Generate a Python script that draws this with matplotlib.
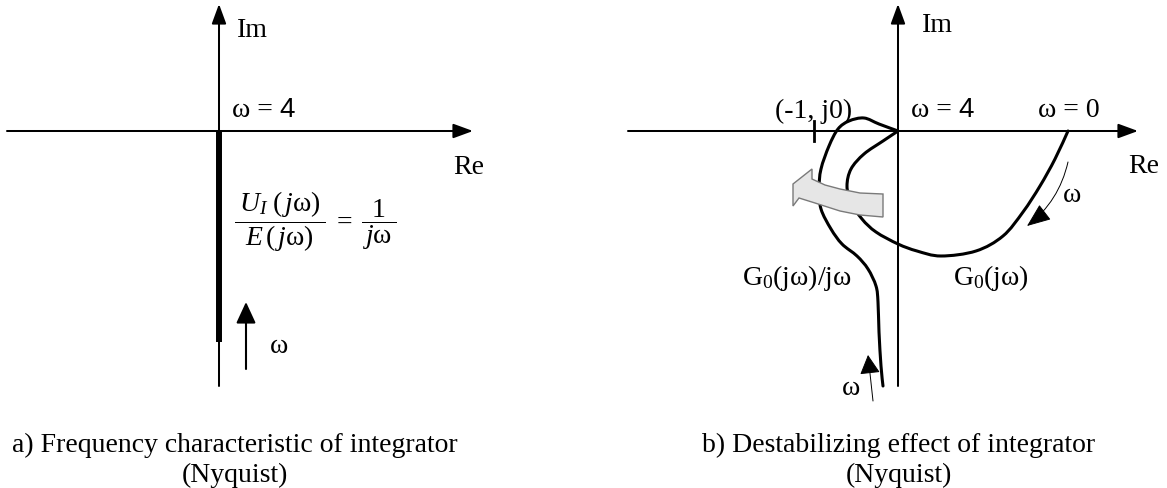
import numpy as np
import matplotlib
matplotlib.use("Agg")
import matplotlib.pyplot as plt
from matplotlib.path import Path
from matplotlib.patches import PathPatch, Polygon, FancyArrowPatch

plt.rcParams['font.family'] = ['Liberation Serif', 'DejaVu Serif']
plt.rcParams['mathtext.fontset'] = 'custom'
plt.rcParams['mathtext.rm'] = 'Liberation Serif'
plt.rcParams['mathtext.it'] = 'Liberation Serif:italic'
plt.rcParams['mathtext.bf'] = 'Liberation Serif:bold'

# ---------------- data (Re / Im coordinates, 1 unit = 100 px) ----------------
# Panel a: integrator 1/(jw) lies on the negative imaginary axis
integ_re = [0.0, 0.0]
integ_im = [0.0, -2.11]

# Panel b: G0(jw) traced from w = 0 to w -> inf
g0_re = [1.70, 1.57, 1.42, 1.25, 1.05, 0.78, 0.43, 0.19, 0.00, -0.22, -0.36,
         -0.47, -0.51, -0.47, -0.34, -0.15, 0.00]
g0_im = [0.00, -0.28, -0.55, -0.81, -1.05, -1.20, -1.25, -1.20, -1.13, -1.01,
         -0.88, -0.71, -0.55, -0.38, -0.23, -0.10, 0.00]

# Panel b: G0(jw)/jw traced from w -> inf back to low w
g0i_re = [0.00, -0.19, -0.34, -0.49, -0.60, -0.69, -0.77, -0.79, -0.77, -0.67,
          -0.56, -0.41, -0.30, -0.22, -0.20, -0.19, -0.17, -0.15]
g0i_im = [0.00, 0.07, 0.13, 0.10, 0.02, -0.15, -0.38, -0.58, -0.78, -0.98,
          -1.13, -1.25, -1.38, -1.55, -1.71, -2.01, -2.35, -2.55]

# gray "destabilizing" arrow outline
garrow_re = [-0.15, -0.38, -0.58, -0.73, -0.86, -0.86, -1.05, -1.05, -0.99,
             -0.83, -0.58, -0.38, -0.15]
garrow_im = [-0.63, -0.62, -0.58, -0.54, -0.48, -0.38, -0.53, -0.75, -0.67,
             -0.72, -0.80, -0.84, -0.86]

critical_point = -0.84   # (-1, j0) tick position on Re axis

caption_a = ["a) Frequency characteristic of integrator", "(Nyquist)"]
caption_b = ["b) Destabilizing effect of integrator", "(Nyquist)"]

# ---------------- figure ----------------
W, H = 1167, 489
fig = plt.figure(figsize=(W / 100, H / 100), dpi=100)
fig.patch.set_facecolor('white')

ax_a = fig.add_axes([0, 0, 1, 1])
ax_a.set_xlim(-2.19, 9.48)
ax_a.set_ylim(-3.57, 1.32)
ax_a.axis('off')
ax_b = fig.add_axes([0, 0, 1, 1])
ax_b.set_xlim(-8.98, 2.69)
ax_b.set_ylim(-3.57, 1.32)
ax_b.axis('off')
ax_b.patch.set_alpha(0)

FS = 20
AX_LW = 1.45
axis_style = "-|>,head_length=0.6,head_width=0.22"


def draw_axes(ax, x0, x1, y0, y1):
    ax.annotate("", xy=(x1, 0), xytext=(x0, 0),
                arrowprops=dict(arrowstyle=axis_style, mutation_scale=20,
                                lw=AX_LW, color='black', shrinkA=0, shrinkB=0))
    ax.annotate("", xy=(0, y1), xytext=(0, y0),
                arrowprops=dict(arrowstyle=axis_style, mutation_scale=20,
                                lw=AX_LW, color='black', shrinkA=0, shrinkB=0))


def smooth_path(xs, ys):
    pts = np.column_stack([xs, ys]).astype(float)
    n = len(pts)
    verts = [pts[0]]
    codes = [Path.MOVETO]
    for i in range(n - 1):
        p0 = pts[i - 1] if i > 0 else pts[i]
        p1 = pts[i]
        p2 = pts[i + 1]
        p3 = pts[i + 2] if i + 2 < n else pts[i + 1]
        verts += [p1 + (p2 - p0) / 6.0, p2 - (p3 - p1) / 6.0, p2]
        codes += [Path.CURVE4] * 3
    return Path(verts, codes)


# ---------------- panel a ----------------
draw_axes(ax_a, -2.12, 2.54, -2.55, 1.27)
ax_a.plot(integ_re, integ_im, color='black', lw=4.3, solid_capstyle='butt')
ax_a.text(0.18, 0.95, "Im", fontsize=FS, ha='left', va='baseline')
ax_a.text(0.13, 0.15, "ω =", fontsize=FS, ha='left', va='baseline')
ax_a.text(0.60, 0.15, "4", fontsize=FS, ha='left', va='baseline',
          family=['Liberation Sans', 'DejaVu Sans'])
ax_a.text(2.34, -0.42, "Re", fontsize=FS, ha='left', va='baseline')
ax_a.text(0.15, -0.90,
          r"$\dfrac{\;U_I\;(\,j\mathrm{\omega})\,}{E\,(\,j\mathrm{\omega})}\;=\;\dfrac{\;1\;}{\,j\mathrm{\omega}\,}$",
          fontsize=FS, ha='left', va='center')
ax_a.annotate("", xy=(0.27, -1.71), xytext=(0.27, -2.38),
              arrowprops=dict(arrowstyle="-|>,head_length=0.65,head_width=0.3",
                              mutation_scale=20, lw=1.5, color='black',
                              shrinkA=0, shrinkB=0))
ax_a.text(0.51, -2.21, "ω", fontsize=FS, ha='left', va='baseline')
ax_a.text(0.16, -3.20, caption_a[0], fontsize=FS, ha='center', va='baseline')
ax_a.text(0.16, -3.50, caption_a[1], fontsize=FS, ha='center', va='baseline')

# ---------------- panel b ----------------
draw_axes(ax_b, -2.70, 2.40, -2.55, 1.27)
ax_b.plot([critical_point, critical_point], [0.10, -0.10], color='black', lw=2.0)

ax_b.add_patch(PathPatch(smooth_path(g0_re, g0_im), fill=False, lw=2.2,
                         edgecolor='black', capstyle='round', zorder=3))
ax_b.add_patch(PathPatch(smooth_path(g0i_re, g0i_im), fill=False, lw=2.2,
                         edgecolor='black', capstyle='round', zorder=3))
ax_b.add_patch(Polygon(np.column_stack([garrow_re, garrow_im]), closed=True,
                       facecolor='#e6e6e6', edgecolor='#7a7a7a', lw=1.0, zorder=4))

# direction arrows (thin)
ax_b.add_patch(FancyArrowPatch((1.70, -0.31), (1.29, -0.95),
                               connectionstyle="arc3,rad=-0.18",
                               arrowstyle="-|>,head_length=0.75,head_width=0.3",
                               mutation_scale=20, lw=0.7, color='black',
                               shrinkA=0, shrinkB=0))
ax_b.annotate("", xy=(-0.30, -2.24), xytext=(-0.25, -2.70),
              arrowprops=dict(arrowstyle="-|>,head_length=0.6,head_width=0.32",
                              mutation_scale=20, lw=0.7, color='black',
                              shrinkA=0, shrinkB=0))

ax_b.text(0.24, 1.00, "Im", fontsize=FS, ha='left', va='baseline')
ax_b.text(-1.23, 0.14, "(-1, j0)", fontsize=FS, ha='left', va='baseline')
ax_b.text(0.13, 0.15, "ω =", fontsize=FS, ha='left', va='baseline')
ax_b.text(0.60, 0.15, "4", fontsize=FS, ha='left', va='baseline',
          family=['Liberation Sans', 'DejaVu Sans'])
ax_b.text(1.40, 0.15, "ω = 0", fontsize=FS, ha='left', va='baseline')
ax_b.text(2.30, -0.41, "Re", fontsize=FS, ha='left', va='baseline')
ax_b.text(-1.56, -1.53, r"G$_{\mathrm{0}}$(jω)/jω", fontsize=FS, ha='left', va='baseline')
ax_b.text(0.55, -1.53, r"G$_{\mathrm{0}}$(jω)", fontsize=FS, ha='left', va='baseline')
ax_b.text(1.65, -0.70, "ω", fontsize=FS, ha='left', va='baseline')
ax_b.text(-0.56, -2.63, "ω", fontsize=FS, ha='left', va='baseline')
ax_b.text(0.01, -3.20, caption_b[0], fontsize=FS, ha='center', va='baseline')
ax_b.text(0.01, -3.50, caption_b[1], fontsize=FS, ha='center', va='baseline')

fig.savefig("out.png", dpi=100, facecolor='white')
